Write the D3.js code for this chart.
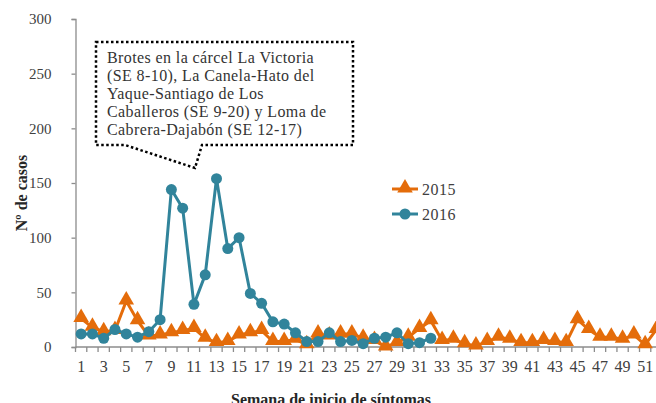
<!DOCTYPE html>
<meta charset="utf-8">
<style>
body { margin: 0; background: #fff; }
svg text { font-family: "Liberation Serif", "DejaVu Serif", serif; fill: #404040; }
</style>
<svg width="656" height="403"></svg>
<script src="https://d3js.org/d3.v7.min.js"></script>
<script>

var weeks = d3.range(1, 53);
var tickWeeks = weeks.filter(function(w){ return w % 2 === 1; });
var yTicks = [0, 50, 100, 150, 200, 250, 300];

var cases2015 = [26,18,14,15,42,24,10,11,13,15, 17,8,4,5,11,13,15,5,5,7,
                 2,12,10,12,12,8,6,0,4,9, 17,24,6,7,3,1,5,9,7,4,
                 4,6,5,4,25,16,9,9,7,11, 2,16];
var cases2016 = [12,12,8,16,12,9,14,25,144,127, 39,66,154,90,100,49,40,23,21,13,
                 5,5,13,5,6,3,8,9,13,3, 4,8];

var note = ["Brotes en la cárcel La Victoria",
            "(SE 8-10), La Canela-Hato del",
            "Yaque-Santiago de Los",
            "Caballeros (SE 9-20) y Loma de",
            "Cabrera-Dajabón (SE 12-17)"];

var orange = "#e46c0a", blue = "#31849b", axisGrey = "#8c8c8c";

var svg = d3.select("svg");
var plotLeft = 75.5, plotBottom = 347, plotTop = 19, step = 11.28;

var x = d3.scaleBand()
    .domain(weeks)
    .range([plotLeft, plotLeft + step * weeks.length]);

var y = d3.scaleLinear()
    .domain([0, 300])
    .range([plotBottom, plotTop]);

function cx(w){ return x(w) + x.bandwidth() / 2; }

// y axis
var yAxis = svg.append("g")
    .attr("transform", "translate(" + plotLeft + ",0)")
    .call(d3.axisLeft(y).tickValues(yTicks).tickSize(4).tickPadding(20));
yAxis.select(".domain").attr("stroke", axisGrey).attr("stroke-width", 1.3);
yAxis.selectAll(".tick line").attr("stroke", axisGrey).attr("stroke-width", 1.3);
yAxis.selectAll("text").attr("font-size", 15).attr("fill", "#404040");

// x axis (labels on odd weeks, ticks on every boundary)
var xAxis = svg.append("g")
    .attr("transform", "translate(0," + plotBottom + ")")
    .call(d3.axisBottom(x).tickValues(tickWeeks).tickSize(0).tickPadding(14));
xAxis.select(".domain").remove();
xAxis.selectAll("text").attr("font-size", 16).attr("fill", "#404040");
svg.append("line")
    .attr("x1", plotLeft).attr("x2", 656)
    .attr("y1", plotBottom).attr("y2", plotBottom)
    .attr("stroke", axisGrey).attr("stroke-width", 1.3);
svg.append("g").selectAll("line")
    .data(weeks)
    .enter().append("line")
    .attr("x1", function(d){ return x(d); })
    .attr("x2", function(d){ return x(d); })
    .attr("y1", plotBottom).attr("y2", plotBottom + 5)
    .attr("stroke", axisGrey).attr("stroke-width", 1.3);

// axis titles
svg.append("text")
    .attr("transform", "translate(27,193) rotate(-90)")
    .attr("text-anchor", "middle")
    .attr("font-size", 16).attr("font-weight", "bold")
    .style("fill", "#262626")
    .text("Nº de casos");
svg.append("text")
    .attr("x", 331).attr("y", 405)
    .attr("text-anchor", "middle")
    .attr("font-size", 16).attr("font-weight", "bold")
    .style("fill", "#262626")
    .text("Semana de inicio de síntomas");

var line = d3.line()
    .x(function(d, i){ return cx(weeks[i]); })
    .y(function(d){ return y(d); });

var triangle = d3.symbol().type(d3.symbolTriangle).size(105);

// 2015
svg.append("path")
    .datum(cases2015)
    .attr("fill", "none").attr("stroke", orange).attr("stroke-width", 3)
    .attr("d", line);
svg.append("g").selectAll("path")
    .data(cases2015)
    .enter().append("path")
    .attr("d", triangle)
    .attr("fill", orange)
    .attr("transform", function(d, i){ return "translate(" + cx(weeks[i]) + "," + (y(d) - 1) + ")"; });

// 2016
svg.append("path")
    .datum(cases2016)
    .attr("fill", "none").attr("stroke", blue).attr("stroke-width", 3)
    .attr("d", line);
svg.append("g").selectAll("circle")
    .data(cases2016)
    .enter().append("circle")
    .attr("cx", function(d, i){ return cx(weeks[i]); })
    .attr("cy", function(d){ return y(d); })
    .attr("r", 5.5)
    .attr("fill", blue);

// legend
var legend = svg.append("g");
legend.append("line").attr("x1", 392).attr("x2", 418).attr("y1", 189).attr("y2", 189)
    .attr("stroke", orange).attr("stroke-width", 3);
legend.append("path").attr("d", triangle).attr("fill", orange)
    .attr("transform", "translate(405,188)");
legend.append("text").attr("x", 422).attr("y", 194.5).attr("font-size", 16)
    .attr("letter-spacing", 0.5).text("2015");
legend.append("line").attr("x1", 392).attr("x2", 418).attr("y1", 214).attr("y2", 214)
    .attr("stroke", blue).attr("stroke-width", 3);
legend.append("circle").attr("cx", 405).attr("cy", 214).attr("r", 5.5).attr("fill", blue);
legend.append("text").attr("x", 422).attr("y", 219.5).attr("font-size", 16)
    .attr("letter-spacing", 0.5).text("2016");

// callout
svg.append("path")
    .attr("d", "M96,42 H353 V145 H202 L195,168 L125,145 H96 Z")
    .attr("fill", "#fff")
    .attr("stroke", "#000").attr("stroke-width", 2.5)
    .attr("stroke-dasharray", "2.5,2.5");
svg.append("g").selectAll("text")
    .data(note)
    .enter().append("text")
    .attr("x", 107)
    .attr("y", function(d, i){ return 62.5 + i * 18.2; })
    .attr("font-size", 16)
    .attr("letter-spacing", 0.4)
    .style("fill", "#333")
    .text(function(d){ return d; });

</script>
